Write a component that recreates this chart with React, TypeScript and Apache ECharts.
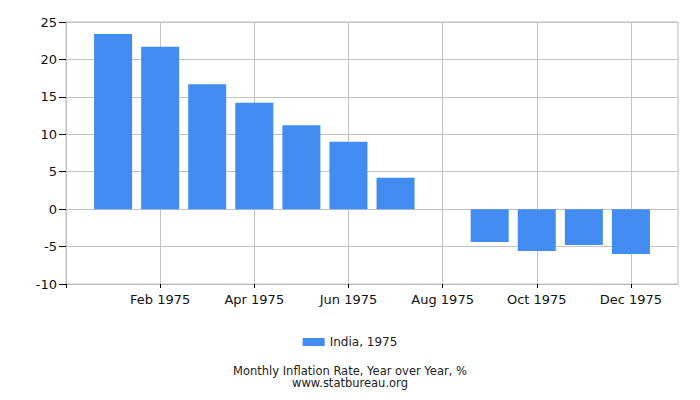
import { useEffect, useRef } from 'react';
import * as echarts from 'echarts';

// months on the axis, with an empty slot before and after the year
const months = ['Jan 1975', 'Feb 1975', 'Mar 1975', 'Apr 1975', 'May 1975', 'Jun 1975',
  'Jul 1975', 'Aug 1975', 'Sep 1975', 'Oct 1975', 'Nov 1975', 'Dec 1975'];
const inflation: (number | null)[] = [23.4, 21.7, 16.7, 14.2, 11.2, 9.0, 4.2, null, -4.4, -5.6, -4.8, -6.0];
const seriesName = 'India, 1975';
const yTicks = { min: -10, max: 25, step: 5 };

const App = () => {
  const chartRef = useRef<HTMLDivElement>(null);

  useEffect(() => {
    if (!chartRef.current) return;
    const chart = echarts.init(chartRef.current, undefined, { renderer: 'svg' });
    const font = 'DejaVu Sans, Verdana, sans-serif';
    const cats = ['', ...months, ''];
    const data = [null, ...inflation, null];

    chart.setOption({
      animation: false,
      textStyle: { fontFamily: font },
      grid: {
        left: 66, right: 22, top: 22, bottom: 116,
        show: true, borderColor: '#bdbdbd', borderWidth: 1,
      },
      title: {
        text: 'Monthly Inflation Rate, Year over Year, %',
        subtext: 'www.statbureau.org',
        left: 'center',
        top: 365,
        itemGap: 0,
        padding: 0,
        textStyle: { fontSize: 11.5, fontWeight: 'normal', color: '#222', fontFamily: font, lineHeight: 11 },
        subtextStyle: { fontSize: 11.5, color: '#222', fontFamily: font, lineHeight: 11 },
      },
      legend: {
        data: [seriesName],
        top: 331,
        left: 'center',
        itemWidth: 22,
        itemHeight: 8,
        itemGap: 6,
        textStyle: { fontSize: 12, color: '#222', fontFamily: font },
        icon: 'rect',
      },
      xAxis: {
        type: 'category',
        data: cats,
        boundaryGap: false,
        axisLine: { onZero: false, lineStyle: { color: '#bdbdbd' } },
        axisTick: {
          interval: (i: number) => i % 2 === 0 && i < cats.length - 1,
          length: 4,
          lineStyle: { color: '#000' },
        },
        axisLabel: {
          interval: (i: number) => i % 2 === 0 && i > 0 && i < cats.length - 1,
          fontSize: 13,
          color: '#111',
          margin: 9,
          fontFamily: font,
        },
        splitLine: {
          show: true,
          interval: (i: number) => i % 2 === 0 && i > 0 && i < cats.length - 1,
          lineStyle: { color: '#c4c4c4' },
        },
      },
      yAxis: {
        type: 'value',
        min: yTicks.min,
        max: yTicks.max,
        interval: yTicks.step,
        axisLine: { show: true, lineStyle: { color: '#bdbdbd' } },
        axisTick: { show: true, length: 7, lineStyle: { color: '#000' } },
        axisLabel: { fontSize: 13, color: '#111', margin: 9, fontFamily: font },
        splitLine: { lineStyle: { color: '#c4c4c4' } },
      },
      series: [
        {
          name: seriesName,
          type: 'bar',
          data,
          barWidth: 38,
          itemStyle: { color: '#428BF0' },
        },
      ],
    });

    return () => chart.dispose();
  }, []);

  return <div ref={chartRef} style={{ width: 700, height: 400, margin: -8 }} />;
};

export default App;
